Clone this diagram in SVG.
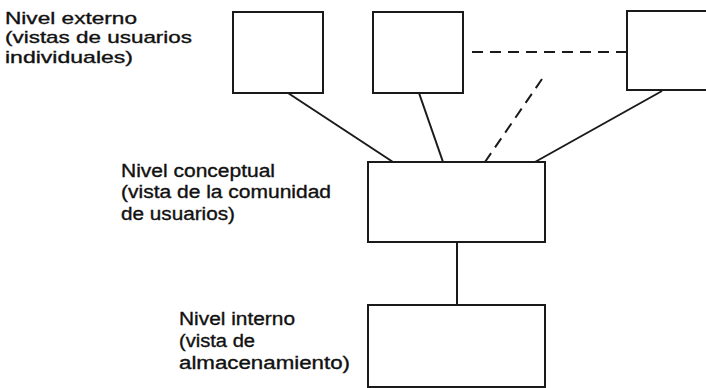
<svg xmlns="http://www.w3.org/2000/svg" width="706" height="388" viewBox="0 0 706 388">
<style>
.box{fill:#fff;stroke:#1a1a1a;stroke-width:2}
.ln{stroke:#1a1a1a;stroke-width:2;fill:none}
.dash{stroke-dasharray:11 7}
text{font-family:"Liberation Sans",Arial,sans-serif;font-size:18px;fill:#111;stroke:#111;stroke-width:0.35}
.top{font-size:17px}
</style>
<rect width="706" height="388" fill="#fff"/>
<g id="connectors">
<line class="ln" x1="288" y1="93" x2="393" y2="162"/>
<line class="ln" x1="419" y1="93" x2="443" y2="162"/>
<line class="ln dash" x1="542" y1="79" x2="485" y2="162"/>
<line class="ln" x1="662" y1="91" x2="535" y2="162"/>
<line class="ln dash" x1="472" y1="52" x2="627" y2="52"/>
<line class="ln" x1="457" y1="242" x2="457" y2="305"/>
</g>
<g id="ext1"><rect class="box" x="233" y="12" width="90" height="81"/></g>
<g id="ext2"><rect class="box" x="373" y="12" width="90" height="81"/></g>
<g id="ext3"><rect class="box" x="627" y="11" width="95" height="79"/></g>
<g id="conceptual"><rect class="box" x="368" y="162" width="177" height="80"/></g>
<g id="interno"><rect class="box" x="368" y="305" width="177" height="82"/></g>
<g id="label-externo">
<text class="top" x="5" y="23.5" textLength="132" lengthAdjust="spacingAndGlyphs">Nivel externo</text>
<text class="top" x="5" y="43" textLength="187" lengthAdjust="spacingAndGlyphs">(vistas de usuarios</text>
<text class="top" x="5" y="62.5" textLength="128" lengthAdjust="spacingAndGlyphs">individuales)</text>
</g>
<g id="label-conceptual">
<text x="121" y="177" textLength="154" lengthAdjust="spacingAndGlyphs">Nivel conceptual</text>
<text x="121" y="198" textLength="210" lengthAdjust="spacingAndGlyphs">(vista de la comunidad</text>
<text x="121" y="220" textLength="114" lengthAdjust="spacingAndGlyphs">de usuarios)</text>
</g>
<g id="label-interno">
<text x="179" y="325" textLength="116" lengthAdjust="spacingAndGlyphs">Nivel interno</text>
<text x="179" y="347" textLength="76" lengthAdjust="spacingAndGlyphs">(vista de</text>
<text x="179" y="369" textLength="171" lengthAdjust="spacingAndGlyphs">almacenamiento)</text>
</g>
</svg>
